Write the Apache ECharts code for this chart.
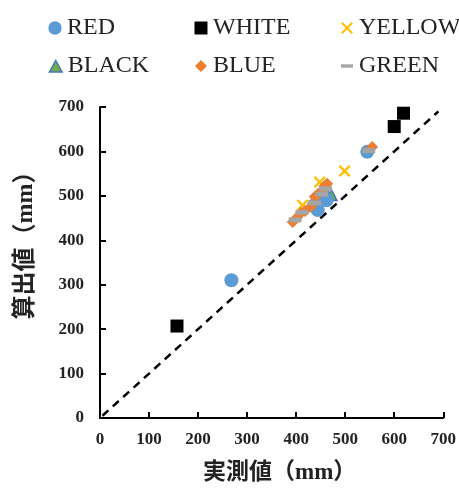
<!DOCTYPE html>
<html>
<head>
<meta charset="utf-8">
<script src="https://cdn.jsdelivr.net/npm/echarts@6/dist/echarts.min.js"></script>
<style>
  html, body { margin: 0; padding: 0; background: #fff; }
  #main { width: 459px; height: 490px; }
</style>
</head>
<body>
<div id="main"></div>
<script>
// 実測値 / 算出値 (mm)
var redData = [[268, 310], [437, 479], [444, 468], [458, 495], [462, 490], [545, 599]];
var whiteData = [[157, 207], [600, 656], [619, 686]];
var yellowData = [[413, 479], [448, 531], [499, 556]];
var blackData = [[462, 505], [472, 502]];
var blueData = [[393, 441], [402, 452], [410, 462], [418, 466], [430, 476], [438, 498], [445, 505], [452, 510], [458, 522], [463, 527], [555, 610]];
var greenData = [[398, 446], [412, 463], [438, 484], [452, 504], [460, 516], [548, 602]];
var refLine = [[5, 5], [690, 690]];

var names = ['RED', 'WHITE', 'YELLOW', 'BLACK', 'BLUE', 'GREEN'];

var serif = "'Liberation Serif', 'DejaVu Serif', 'Noto Sans CJK JP', serif";
var crossPath = 'path://M0,1.4L1.4,0L5,3.6L8.6,0L10,1.4L6.4,5L10,8.6L8.6,10L5,6.4L1.4,10L0,8.6L3.6,5Z';
var dashIcon = 'path://M0,0M14,14M1,5.3H13V8.7H1Z';
var triIcon = 'path://M0,0M14,14M7,1.5L13.3,13H0.7Z';
var diaIcon = 'path://M0,0M14,14M7,1L13,7L7,13L1,7Z';
var circIcon = 'path://M0,0M14,14M7,0.3A6.7,6.7,0,1,1,6.99,0.3Z';
var squareIcon = 'path://M0,0M14,14M0.5,0.5H13.5V13.5H0.5Z';
var crossIcon = 'path://M0,0M14,14M1,2.4L2.4,1L7,5.6L11.6,1L13,2.4L8.4,7L13,11.6L11.6,13L7,8.4L2.4,13L1,11.6L5.6,7Z';

var legendIcons = [circIcon, squareIcon, crossIcon, triIcon, diaIcon, dashIcon];
var legendPos = [[43, 11], [189, 11], [335, 11], [43, 49], [189, 49], [335, 49]];

var chart = echarts.init(document.getElementById('main'));

var legends = names.map(function (n, i) {
  var item = { name: n, icon: legendIcons[i] };
  if (n === 'BLACK') {
    item.itemStyle = { color: '#70AD47', borderColor: '#4472C4', borderWidth: 1.5 };
  }
  return {
    data: [item],
    left: legendPos[i][0],
    top: legendPos[i][1],
    itemWidth: 14,
    itemHeight: 14,
    textStyle: { fontFamily: serif, fontSize: 24, color: '#222' },
    selectedMode: false
  };
});

var option = {
  backgroundColor: '#ffffff',
  animation: false,
  legend: legends,
  grid: { left: 100, right: 15, top: 107, bottom: 72 },
  xAxis: {
    type: 'value',
    min: 0,
    max: 700,
    interval: 100,
    name: '実測値（mm）',
    nameLocation: 'middle',
    nameGap: 44,
    nameTextStyle: { fontFamily: serif, fontSize: 23, fontWeight: 'bold', color: '#222', padding: [0, 0, 0, 16] },
    axisLine: { show: true, lineStyle: { color: '#000', width: 2 } },
    axisTick: { show: true, inside: true, length: 6, lineStyle: { color: '#000', width: 2 } },
    axisLabel: { fontFamily: serif, fontSize: 17, fontWeight: 'bold', color: '#222', margin: 13 },
    splitLine: { show: false }
  },
  yAxis: {
    type: 'value',
    min: 0,
    max: 700,
    interval: 100,
    name: '算出値（mm）',
    nameLocation: 'middle',
    nameGap: 62,
    nameRotate: 90,
    nameTextStyle: { fontFamily: serif, fontSize: 24, fontWeight: 'bold', color: '#222', padding: [0, 0, 0, 46] },
    axisLine: { show: true, lineStyle: { color: '#000', width: 2 } },
    axisTick: { show: true, inside: true, length: 6, lineStyle: { color: '#000', width: 2 } },
    axisLabel: { fontFamily: serif, fontSize: 17, fontWeight: 'bold', color: '#222', margin: 16 },
    splitLine: { show: false }
  },
  series: [
    {
      name: 'ref', type: 'line', data: refLine, symbol: 'none', silent: true,
      lineStyle: { color: '#000', width: 2.5, type: [8, 6] }, z: 1
    },
    {
      name: 'BLACK', type: 'scatter', data: blackData, symbol: 'triangle', symbolSize: 11,
      itemStyle: { color: '#70AD47', borderColor: '#4472C4', borderWidth: 1.5, opacity: 1 }
    },
    {
      name: 'RED', type: 'scatter', data: redData, symbol: 'circle', symbolSize: 14,
      itemStyle: { color: '#5B9BD5', opacity: 1 }
    },
    {
      name: 'WHITE', type: 'scatter', data: whiteData, symbol: 'rect', symbolSize: 13,
      itemStyle: { color: '#000', opacity: 1 }
    },
    {
      name: 'YELLOW', type: 'scatter', data: yellowData, symbol: crossPath, symbolSize: 12,
      itemStyle: { color: '#FFC000', opacity: 1 }
    },
    {
      name: 'BLUE', type: 'scatter', data: blueData, symbol: 'diamond', symbolSize: 12,
      itemStyle: { color: '#ED7D31', opacity: 1 }
    },
    {
      name: 'GREEN', type: 'scatter', data: greenData, symbol: 'rect', symbolSize: [13, 5],
      itemStyle: { color: '#A5A5A5', opacity: 1 }
    }
  ]
};

chart.setOption(option);
</script>
</body>
</html>
